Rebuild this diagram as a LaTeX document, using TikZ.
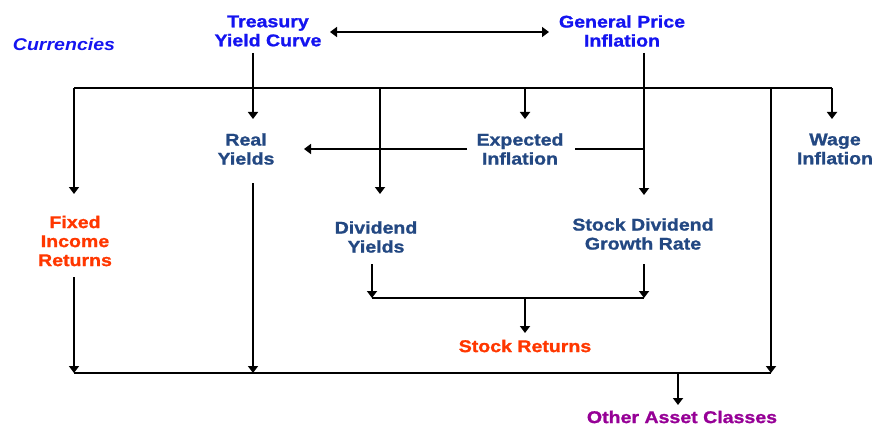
\documentclass[tikz,border=0pt]{standalone}
\usepackage{fontspec}
\setmainfont{Liberation Sans}[FakeStretch=1.15,BoldFeatures={FakeBold=1.2}]
\usetikzlibrary{arrows.meta}
\definecolor{brightblue}{RGB}{20,20,240}
\definecolor{darkblue}{RGB}{35,72,130}
\definecolor{redorange}{RGB}{255,55,0}
\definecolor{purp}{RGB}{150,0,150}
\begin{document}
\begin{tikzpicture}[x=1pt,y=-1pt,
  lbl/.style={align=center,inner sep=0pt,font=\fontsize{17}{19}\selectfont\bfseries},
  top/.style={lbl,text=brightblue},
  mid/.style={lbl,text=darkblue},
  ret/.style={lbl,text=redorange},
  ln/.style={line width=2.4pt},
  thin/.style={line width=1.9pt},
  arr/.style={ln,-{Triangle[length=7pt,width=10pt]}},
  tarr/.style={thin,-{Triangle[length=7pt,width=10pt]}}]
\useasboundingbox (0,0) rectangle (875,425);
% nodes
\node[top,font=\fontsize{17}{19}\selectfont\bfseries\itshape] (cur) at (64,44) {Currencies};
\node[top] (tyc) at (268,31) {Treasury\\Yield Curve};
\node[top] (gpi) at (622,31) {General Price\\Inflation};
\node[mid] (ry) at (246,149) {Real\\Yields};
\node[mid] (ei) at (520,149) {Expected\\Inflation};
\node[mid] (wi) at (835,149) {Wage\\Inflation};
\node[ret] (fir) at (75,241) {Fixed\\Income\\Returns};
\node[mid] (dy) at (376,237) {Dividend\\Yields};
\node[mid] (sdg) at (643,234) {Stock Dividend\\Growth Rate};
\node[ret] (sr) at (525,346) {Stock Returns};
\node[lbl,text=purp] (oac) at (682,417) {Other Asset Classes};
% coordinates
\coordinate (tycS) at (253,53);
\coordinate (gpiS) at (644,53);
\coordinate (tycE) at (330,32);
\coordinate (gpiW) at (549,32);
\coordinate (busL) at (74,88);
\coordinate (busR) at (832,88);
\coordinate (ryN) at (253,119);
\coordinate (ryS) at (253,183);
\coordinate (ryE) at (304,149);
\coordinate (eiW) at (467,149);
\coordinate (eiE) at (575,149);
\coordinate (eiN) at (525,119);
\coordinate (wiN) at (832,119);
\coordinate (firN) at (74,194);
\coordinate (firS) at (74,277);
\coordinate (dyN) at (380,194);
\coordinate (dyS) at (372,264);
\coordinate (sdgN) at (644,195);
\coordinate (sdgS) at (644,264);
\coordinate (srJ) at (525,298);
\coordinate (srN) at (525,333);
\coordinate (botL) at (74,373);
\coordinate (botR) at (771,373);
\coordinate (oacJ) at (678,373);
\coordinate (oacN) at (678,405);
% connectors
\draw[thin,{Triangle[length=7pt,width=10pt]}-{Triangle[length=7pt,width=10pt]}] (tycE) -- (gpiW);
\draw[ln] (busL) -- (busR);
\draw[arr] (tycS) -- (ryN);
\draw[arr] (gpiS) -- (sdgN);
\draw[arr] (busL) -- (firN);
\draw[arr] (busL -| dyN) -- (dyN);
\draw[arr] (busL -| eiN) -- (eiN);
\draw[arr] (busR) -- (wiN);
\draw[arr] (busL -| botR) -- (botR);
\draw[arr] (eiW) -- (ryE);
\draw[ln] (eiE) -- (eiE -| gpiS);
\draw[arr] (ryS) -- (ryS |- botL);
\draw[arr] (firS) -- (botL);
\draw[thin] (botL) -- (botR);
\draw[arr] (dyS) -- (dyS |- srJ);
\draw[arr] (sdgS) -- (sdgS |- srJ);
\draw[thin] (dyS |- srJ) -- (sdgS |- srJ);
\draw[arr] (srJ) -- (srN);
\draw[arr] (oacJ) -- (oacN);
\end{tikzpicture}
\end{document}
